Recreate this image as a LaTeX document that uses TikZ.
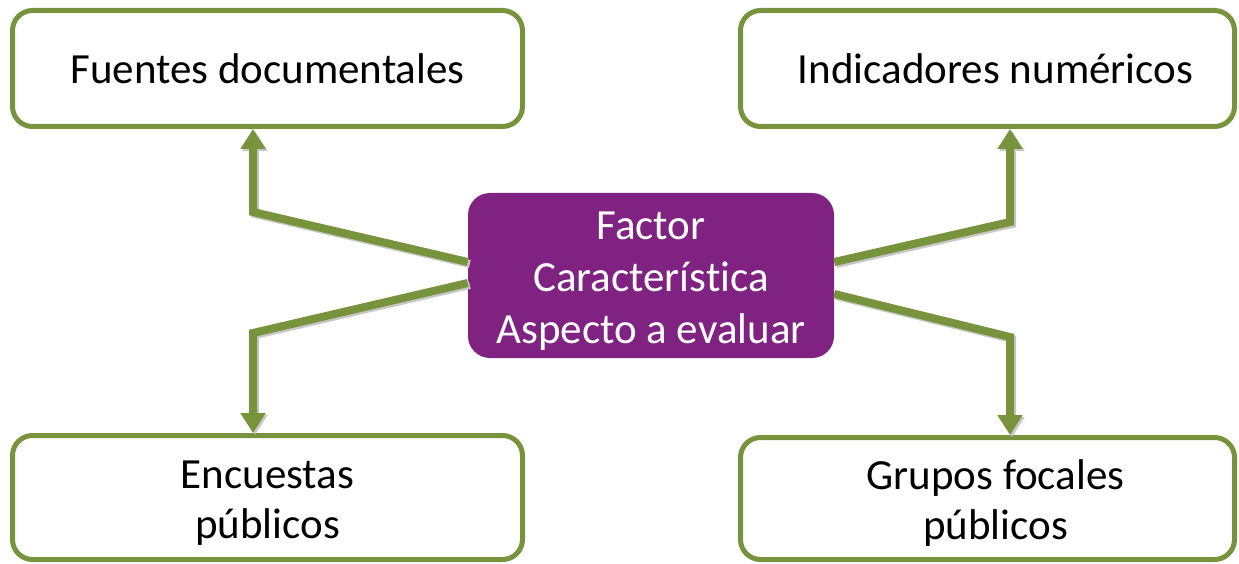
\documentclass[tikz,border=0pt]{standalone}
\usepackage{fontspec}
\setmainfont{Carlito}[Ligatures={NoCommon,NoRequired,NoContextual}]
\usetikzlibrary{arrows.meta}
\definecolor{olive}{RGB}{119,147,60}
\definecolor{plum}{RGB}{128,34,130}
\newcommand{\topstrut}{\rule{0pt}{38pt}}
\newcommand{\nudge}{\hspace*{16pt}}

\begin{document}
\begin{tikzpicture}[x=1pt, y=-1pt,
        box/.style={draw=olive, line width=5pt, rounded corners=20pt, fill=white,
            align=center, font=\fontsize{43}{50}\selectfont, inner sep=0pt},
        hub/.style={fill=plum, text=white, rounded corners=22pt, align=center,
            font=\fontsize{43}{52}\selectfont, inner sep=0pt,
            minimum width=366pt, minimum height=165pt},
        link/.style={olive, line width=8pt, -{Triangle[width=24pt,length=20pt]},
            preaction={draw=black!22, line width=8pt, transform canvas={shift={(2pt,-2pt)}}}}]
        \useasboundingbox (0,0) rectangle (1239,564);
        % boxes
        \node[box, minimum width=510pt, minimum height=116pt] (fuentes) at (267.5,68.5) {Fuentes documentales};
        \node[box, minimum width=494pt, minimum height=116pt] (indic) at (987.5,68.5) {\nudge Indicadores numéricos};
        \node[box, minimum width=510pt, minimum height=124pt] (encuestas) at (267.5,497.5) {\topstrut Encuestas\\públicos};
        \node[box, minimum width=494pt, minimum height=122pt] (grupos) at (987.5,498.5) {\topstrut\nudge Grupos focales\\\nudge públicos};
        \node[hub] (factor) at (651,275.5) {\topstrut Factor\\Característica\\Aspecto a evaluar};
        % bends
        \coordinate (kFuentes) at (253,212);
        \coordinate (kIndic) at (1010,222);
        \coordinate (kEncuestas) at (253,333);
        \coordinate (kGrupos) at (1010,337);
        % connectors
        \draw[link] (factor.west |- 0,262) -- (kFuentes) -- (kFuentes |- fuentes.south);
        \draw[link] (factor.west |- 0,283) -- (kEncuestas) -- (kEncuestas |- encuestas.north);
        \draw[link] (factor.east |- 0,262) -- (kIndic) -- (kIndic |- indic.south);
        \draw[link] (factor.east |- 0,294) -- (kGrupos) -- (kGrupos |- grupos.north);
\end{tikzpicture}
\end{document}
